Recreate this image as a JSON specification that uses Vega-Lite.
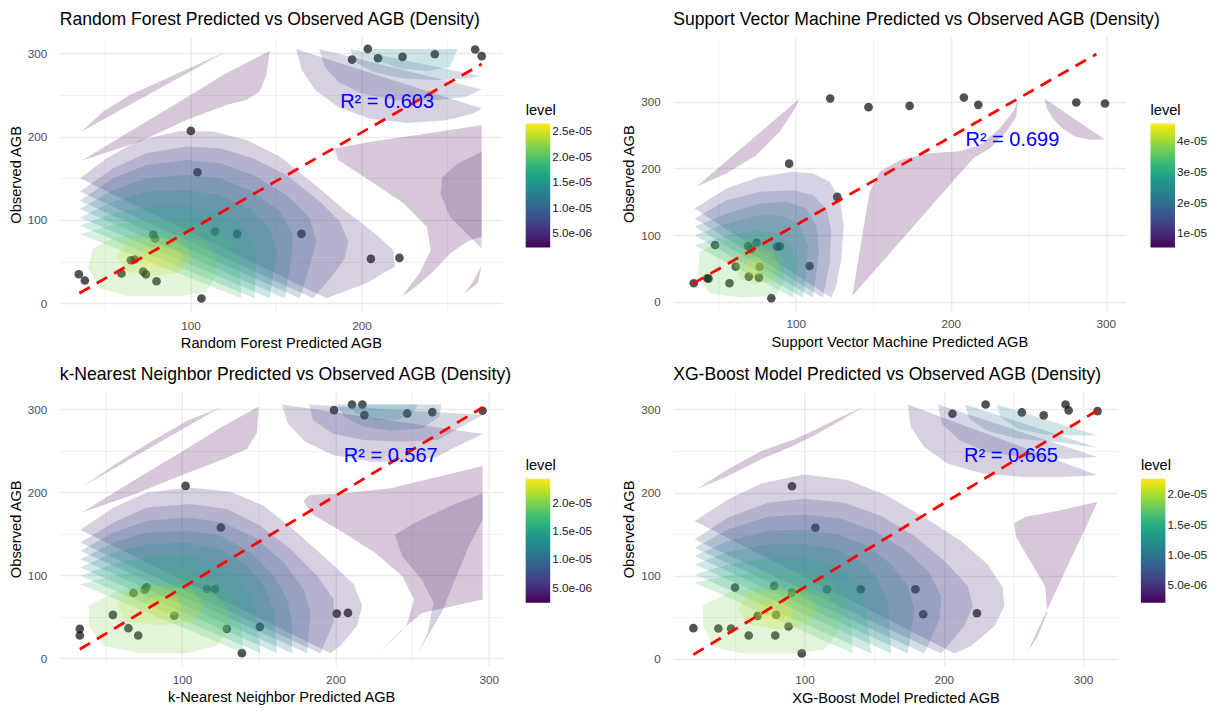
{
"$schema":"https://vega.github.io/schema/vega-lite/v6.json",
"background":"white",
"padding":{"left":7.7,"top":10,"right":0,"bottom":0},
"bounds":"flush",
"columns":2,
"spacing":{"row":80,"column":170.5},
"resolve":{"scale":{"fill":"independent","x":"independent","y":"independent"},"legend":{"fill":"independent"},"axis":{"x":"independent","y":"independent"}},
"config":{
"font":"Liberation Sans",
"view":{"stroke":null},
"title":{"font":"Liberation Sans","fontSize":17.6,"fontWeight":"normal","color":"#000","anchor":"start","frame":"group","offset":8.5},
"axis":{"domain":false,"ticks":false,"grid":true,"gridColor":"#ebebeb","labelFont":"Liberation Sans","labelFontSize":11.73,"labelColor":"#4d4d4d","titleFont":"Liberation Sans","titleFontSize":14.67,"titleFontWeight":"normal","titleColor":"#000","labelPadding":6.6,"titlePadding":4,"labelFlush":false,"labelOverlap":false},
"axisY":{"labelPadding":13},
"axisX":{"labelPadding":8.5},
"legend":{"titleFont":"Liberation Sans","titleFontSize":14.67,"titleFontWeight":"normal","titleColor":"#000","labelFont":"Liberation Sans","labelFontSize":11.73,"labelColor":"#1a1a1a","gradientLength":124,"gradientThickness":24.5,"gradientStrokeWidth":0,"labelOffset":7,"titlePadding":6,"labelOverlap":false}
},
"datasets":{
"rfS":[{"x":34.7,"y":34.8},{"x":38.2,"y":27.2},{"x":59.6,"y":35.6},{"x":65.1,"y":51.6},{"x":67.4,"y":52.4},{"x":72.3,"y":38},{"x":73.9,"y":34.8},{"x":78.2,"y":82},{"x":79.3,"y":77.6},{"x":80.1,"y":26.4},{"x":100.2,"y":206.8},{"x":104.1,"y":157.2},{"x":106.4,"y":5.6},{"x":114.4,"y":86},{"x":127.3,"y":83.2},{"x":164.9,"y":83.2},{"x":194.5,"y":292.4},{"x":203.7,"y":305.2},{"x":209.7,"y":294},{"x":205.5,"y":53.2},{"x":222.2,"y":54.4},{"x":224,"y":295.6},{"x":242.9,"y":298.8},{"x":266.5,"y":304.5},{"x":270.3,"y":296.5}],
"svS":[{"x":34.25,"y":27.9},{"x":43,"y":35.4},{"x":43.8,"y":34.9},{"x":48,"y":85.2},{"x":57.3,"y":27.9},{"x":61.3,"y":52.8},{"x":69.3,"y":83.7},{"x":69.8,"y":37.9},{"x":71.3,"y":78.7},{"x":74.8,"y":88.7},{"x":76.3,"y":36.4},{"x":76.8,"y":52.3},{"x":84.3,"y":5.5},{"x":88,"y":82.7},{"x":89.8,"y":83.2},{"x":95.8,"y":207.3},{"x":109,"y":53.8},{"x":126.8,"y":157.4},{"x":122.3,"y":304.9},{"x":147,"y":292},{"x":173.5,"y":294},{"x":208.5,"y":306.4},{"x":217.8,"y":295.5},{"x":281,"y":299},{"x":299.5,"y":297.5}],
"knS":[{"x":33.3,"y":35.6},{"x":33.3,"y":27.6},{"x":54.9,"y":52.4},{"x":65,"y":36.4},{"x":68.3,"y":78.8},{"x":71.4,"y":27.6},{"x":75.7,"y":82.8},{"x":76.9,"y":85.6},{"x":94.9,"y":51.6},{"x":102.3,"y":207.6},{"x":116.2,"y":83.6},{"x":121.5,"y":83.6},{"x":125.3,"y":157.6},{"x":129.2,"y":35.6},{"x":139,"y":6.4},{"x":150.7,"y":38},{"x":200.9,"y":54},{"x":208.2,"y":54.8},{"x":199.1,"y":298.8},{"x":210.8,"y":305.6},{"x":217.6,"y":305.6},{"x":218.9,"y":292.8},{"x":246.8,"y":294.8},{"x":263.2,"y":296.4},{"x":296,"y":298}],
"xgS":[{"x":20.2,"y":36.8},{"x":38.1,"y":36.4},{"x":47.3,"y":36.4},{"x":50.1,"y":85.6},{"x":59.9,"y":28},{"x":66.4,"y":51.6},{"x":78.2,"y":87.6},{"x":79,"y":28},{"x":79.6,"y":52.8},{"x":88.5,"y":38.8},{"x":90.8,"y":79.6},{"x":91,"y":207.6},{"x":98,"y":6.4},{"x":107.8,"y":157.6},{"x":116.2,"y":83.6},{"x":140.3,"y":83.6},{"x":179.6,"y":83.6},{"x":185.2,"y":53.6},{"x":223.8,"y":54.8},{"x":206.2,"y":294.8},{"x":230,"y":306},{"x":256,"y":296.4},{"x":271.7,"y":292.8},{"x":287.4,"y":306},{"x":289.6,"y":298.8},{"x":310.4,"y":298}],
"rfP":[
{"g":"a01","x":36.3,"y":206,"l":2.27e-6},{"g":"a01","x":48.9,"y":230,"l":2.27e-6},{"g":"a01","x":64.5,"y":250,"l":2.27e-6},{"g":"a01","x":82.1,"y":266,"l":2.27e-6},{"g":"a01","x":101.6,"y":284,"l":2.27e-6},{"g":"a01","x":121,"y":302,"l":2.27e-6},
{"g":"a02","x":36.3,"y":171,"l":2.27e-6},{"g":"a02","x":64.5,"y":206,"l":2.27e-6},{"g":"a02","x":93.8,"y":242,"l":2.27e-6},{"g":"a02","x":119.1,"y":274,"l":2.27e-6},{"g":"a02","x":146.4,"y":303,"l":2.27e-6},{"g":"a02","x":144.4,"y":274,"l":2.27e-6},{"g":"a02","x":140.5,"y":254,"l":2.27e-6},{"g":"a02","x":132.7,"y":244,"l":2.27e-6},{"g":"a02","x":121,"y":238,"l":2.27e-6},{"g":"a02","x":97.7,"y":220,"l":2.27e-6},{"g":"a02","x":70.4,"y":194,"l":2.27e-6},
{"g":"a03","x":161.7,"y":305,"l":4.96e-6},{"g":"a03","x":165.1,"y":279.6,"l":4.96e-6},{"g":"a03","x":173,"y":255.6,"l":4.96e-6},{"g":"a03","x":186.5,"y":235.6,"l":4.96e-6},{"g":"a03","x":204.5,"y":221.6,"l":4.96e-6},{"g":"a03","x":227,"y":216.4,"l":4.96e-6},{"g":"a03","x":249.5,"y":219.6,"l":4.96e-6},{"g":"a03","x":265.3,"y":227.6,"l":4.96e-6},{"g":"a03","x":270.3,"y":233.6,"l":4.96e-6},
{"g":"a04","x":175.2,"y":305,"l":7.64e-6},{"g":"a04","x":178.6,"y":283.6,"l":7.64e-6},{"g":"a04","x":186.5,"y":265.6,"l":7.64e-6},{"g":"a04","x":200,"y":251.6,"l":7.64e-6},{"g":"a04","x":220.3,"y":243.6,"l":7.64e-6},{"g":"a04","x":242.8,"y":243.6,"l":7.64e-6},{"g":"a04","x":260.8,"y":247.6,"l":7.64e-6},{"g":"a04","x":270.3,"y":256.4,"l":7.64e-6},
{"g":"a05","x":193.2,"y":305,"l":1.033e-5},{"g":"a05","x":196.6,"y":289.6,"l":1.033e-5},{"g":"a05","x":206.8,"y":277.6,"l":1.033e-5},{"g":"a05","x":224.8,"y":269.6,"l":1.033e-5},{"g":"a05","x":245,"y":267.6,"l":1.033e-5},{"g":"a05","x":260.8,"y":269.6,"l":1.033e-5},{"g":"a05","x":270.3,"y":272.4,"l":1.033e-5},
{"g":"a06","x":204.5,"y":305,"l":1.301e-5},{"g":"a06","x":209,"y":291.6,"l":1.301e-5},{"g":"a06","x":222.5,"y":281.6,"l":1.301e-5},{"g":"a06","x":238.3,"y":278.8,"l":1.301e-5},{"g":"a06","x":251.8,"y":283.6,"l":1.301e-5},{"g":"a06","x":256.3,"y":305,"l":1.301e-5},
{"g":"a07","x":270.3,"y":213.6,"l":2.27e-6},{"g":"a07","x":238.3,"y":203.6,"l":2.27e-6},{"g":"a07","x":204.5,"y":193.6,"l":2.27e-6},{"g":"a07","x":184.2,"y":185.6,"l":2.27e-6},{"g":"a07","x":186.5,"y":171.6,"l":2.27e-6},{"g":"a07","x":204.5,"y":147.6,"l":2.27e-6},{"g":"a07","x":224.8,"y":119.6,"l":2.27e-6},{"g":"a07","x":238.3,"y":91.6,"l":2.27e-6},{"g":"a07","x":240.5,"y":63.6,"l":2.27e-6},{"g":"a07","x":233.8,"y":35.6,"l":2.27e-6},{"g":"a07","x":223.6,"y":7.6,"l":2.27e-6},{"g":"a07","x":232,"y":20,"l":2.27e-6},{"g":"a07","x":243,"y":40,"l":2.27e-6},{"g":"a07","x":252,"y":60,"l":2.27e-6},{"g":"a07","x":262,"y":74,"l":2.27e-6},{"g":"a07","x":270.3,"y":80,"l":2.27e-6},
{"g":"a08","x":270.3,"y":45,"l":2.27e-6},{"g":"a08","x":265,"y":25,"l":2.27e-6},{"g":"a08","x":259.5,"y":10,"l":2.27e-6},{"g":"a08","x":268,"y":24,"l":2.27e-6},
{"g":"a09","x":270.3,"y":181.6,"l":4.96e-6},{"g":"a09","x":256.3,"y":167.6,"l":4.96e-6},{"g":"a09","x":247.3,"y":151.6,"l":4.96e-6},{"g":"a09","x":246.2,"y":131.6,"l":4.96e-6},{"g":"a09","x":251.8,"y":103.6,"l":4.96e-6},{"g":"a09","x":270.3,"y":65.6,"l":4.96e-6},
{"g":"a10","x":35.3,"y":150,"l":4.96e-6},{"g":"a10","x":50.9,"y":174,"l":4.96e-6},{"g":"a10","x":70.4,"y":196,"l":4.96e-6},{"g":"a10","x":93.8,"y":206.8,"l":4.96e-6},{"g":"a10","x":113.3,"y":206,"l":4.96e-6},{"g":"a10","x":132.7,"y":196,"l":4.96e-6},{"g":"a10","x":152.2,"y":176,"l":4.96e-6},{"g":"a10","x":171.7,"y":144,"l":4.96e-6},{"g":"a10","x":191.2,"y":110,"l":4.96e-6},{"g":"a10","x":207.8,"y":84,"l":4.96e-6},{"g":"a10","x":218.5,"y":64,"l":4.96e-6},{"g":"a10","x":219.5,"y":44,"l":4.96e-6},{"g":"a10","x":202.9,"y":24,"l":4.96e-6},{"g":"a10","x":179.5,"y":6,"l":4.96e-6},
{"g":"a11","x":35.3,"y":134,"l":7.35e-6},{"g":"a11","x":54.8,"y":162,"l":7.35e-6},{"g":"a11","x":74.3,"y":180,"l":7.35e-6},{"g":"a11","x":97.7,"y":188,"l":7.35e-6},{"g":"a11","x":117.2,"y":186,"l":7.35e-6},{"g":"a11","x":136.6,"y":174,"l":7.35e-6},{"g":"a11","x":156.1,"y":154,"l":7.35e-6},{"g":"a11","x":175.6,"y":122,"l":7.35e-6},{"g":"a11","x":187.3,"y":98,"l":7.35e-6},{"g":"a11","x":192.2,"y":74,"l":7.35e-6},{"g":"a11","x":190.3,"y":54,"l":7.35e-6},{"g":"a11","x":183.4,"y":34,"l":7.35e-6},{"g":"a11","x":171.7,"y":6,"l":7.35e-6},
{"g":"a12","x":35.3,"y":123,"l":9.73e-6},{"g":"a12","x":54.8,"y":150,"l":9.73e-6},{"g":"a12","x":74.3,"y":166,"l":9.73e-6},{"g":"a12","x":97.7,"y":172,"l":9.73e-6},{"g":"a12","x":117.2,"y":168,"l":9.73e-6},{"g":"a12","x":136.6,"y":154,"l":9.73e-6},{"g":"a12","x":156.1,"y":130,"l":9.73e-6},{"g":"a12","x":169.8,"y":102,"l":9.73e-6},{"g":"a12","x":173.7,"y":74,"l":9.73e-6},{"g":"a12","x":169.8,"y":46,"l":9.73e-6},{"g":"a12","x":163.9,"y":6,"l":9.73e-6},
{"g":"a13","x":35.3,"y":113,"l":1.212e-5},{"g":"a13","x":54.8,"y":136,"l":1.212e-5},{"g":"a13","x":74.3,"y":150,"l":1.212e-5},{"g":"a13","x":97.7,"y":154,"l":1.212e-5},{"g":"a13","x":117.2,"y":150,"l":1.212e-5},{"g":"a13","x":136.6,"y":134,"l":1.212e-5},{"g":"a13","x":152.2,"y":110,"l":1.212e-5},{"g":"a13","x":160,"y":82,"l":1.212e-5},{"g":"a13","x":159,"y":54,"l":1.212e-5},{"g":"a13","x":155.2,"y":6,"l":1.212e-5},
{"g":"a14","x":35.3,"y":103,"l":1.451e-5},{"g":"a14","x":54.8,"y":122,"l":1.451e-5},{"g":"a14","x":74.3,"y":134,"l":1.451e-5},{"g":"a14","x":97.7,"y":136,"l":1.451e-5},{"g":"a14","x":117.2,"y":130,"l":1.451e-5},{"g":"a14","x":134.7,"y":114,"l":1.451e-5},{"g":"a14","x":146.4,"y":90,"l":1.451e-5},{"g":"a14","x":150.3,"y":62,"l":1.451e-5},{"g":"a14","x":146.4,"y":6,"l":1.451e-5},
{"g":"a15","x":35.3,"y":93,"l":1.69e-5},{"g":"a15","x":54.8,"y":108,"l":1.69e-5},{"g":"a15","x":74.3,"y":116,"l":1.69e-5},{"g":"a15","x":97.7,"y":117,"l":1.69e-5},{"g":"a15","x":117.2,"y":110,"l":1.69e-5},{"g":"a15","x":130.8,"y":92,"l":1.69e-5},{"g":"a15","x":138.6,"y":66,"l":1.69e-5},{"g":"a15","x":137.6,"y":6,"l":1.69e-5},
{"g":"a16","x":35.3,"y":83,"l":1.928e-5},{"g":"a16","x":54.8,"y":94,"l":1.928e-5},{"g":"a16","x":74.3,"y":100,"l":1.928e-5},{"g":"a16","x":97.7,"y":99,"l":1.928e-5},{"g":"a16","x":115.2,"y":90,"l":1.928e-5},{"g":"a16","x":125.9,"y":70,"l":1.928e-5},{"g":"a16","x":128.8,"y":42,"l":1.928e-5},{"g":"a16","x":129.8,"y":6,"l":1.928e-5},
{"g":"a17","x":43,"y":66,"l":2.167e-5},{"g":"a17","x":54.8,"y":78,"l":2.167e-5},{"g":"a17","x":74.3,"y":84,"l":2.167e-5},{"g":"a17","x":93.8,"y":82,"l":2.167e-5},{"g":"a17","x":107.4,"y":74,"l":2.167e-5},{"g":"a17","x":115.2,"y":58,"l":2.167e-5},{"g":"a17","x":115.2,"y":34,"l":2.167e-5},{"g":"a17","x":109.4,"y":14,"l":2.167e-5},{"g":"a17","x":93.8,"y":8,"l":2.167e-5},{"g":"a17","x":64.5,"y":8,"l":2.167e-5},{"g":"a17","x":47,"y":18,"l":2.167e-5},{"g":"a17","x":40.2,"y":42,"l":2.167e-5},
{"g":"a18","x":56.7,"y":56,"l":2.405e-5},{"g":"a18","x":62.6,"y":72,"l":2.405e-5},{"g":"a18","x":78.2,"y":78.8,"l":2.405e-5},{"g":"a18","x":93.8,"y":74,"l":2.405e-5},{"g":"a18","x":101.6,"y":56,"l":2.405e-5},{"g":"a18","x":93.8,"y":37,"l":2.405e-5},{"g":"a18","x":78.2,"y":32,"l":2.405e-5},{"g":"a18","x":62.6,"y":38,"l":2.405e-5},
{"g":"a19","x":68.4,"y":56,"l":2.644e-5},{"g":"a19","x":74.3,"y":66,"l":2.644e-5},{"g":"a19","x":83,"y":69,"l":2.644e-5},{"g":"a19","x":92.8,"y":64,"l":2.644e-5},{"g":"a19","x":95.7,"y":56,"l":2.644e-5},{"g":"a19","x":91.8,"y":46,"l":2.644e-5},{"g":"a19","x":82,"y":42,"l":2.644e-5},{"g":"a19","x":72.3,"y":46,"l":2.644e-5}
],
"svP":[
{"g":"b01","x":35.9,"y":172.5,"l":5.46e-6},{"g":"b01","x":55.3,"y":192.5,"l":5.46e-6},{"g":"b01","x":74.6,"y":220,"l":5.46e-6},{"g":"b01","x":89.7,"y":255,"l":5.46e-6},{"g":"b01","x":98.3,"y":285,"l":5.46e-6},{"g":"b01","x":102.6,"y":305,"l":5.46e-6},
{"g":"b02","x":136.6,"y":9,"l":5.46e-6},{"g":"b02","x":139.1,"y":45,"l":5.46e-6},{"g":"b02","x":143.4,"y":105,"l":5.46e-6},{"g":"b02","x":147.7,"y":165,"l":5.46e-6},{"g":"b02","x":154.2,"y":195,"l":5.46e-6},{"g":"b02","x":167.1,"y":212.5,"l":5.46e-6},{"g":"b02","x":184.3,"y":222.5,"l":5.46e-6},{"g":"b02","x":205.8,"y":226,"l":5.46e-6},{"g":"b02","x":218.7,"y":235,"l":5.46e-6},{"g":"b02","x":231.6,"y":260,"l":5.46e-6},{"g":"b02","x":240.2,"y":285,"l":5.46e-6},{"g":"b02","x":243.4,"y":302.5,"l":5.46e-6},{"g":"b02","x":242.3,"y":277.5,"l":5.46e-6},{"g":"b02","x":235.9,"y":255,"l":5.46e-6},{"g":"b02","x":225.2,"y":230,"l":5.46e-6},{"g":"b02","x":214.4,"y":215,"l":5.46e-6},
{"g":"b03","x":260.5,"y":305,"l":5.46e-6},{"g":"b03","x":262,"y":290,"l":5.46e-6},{"g":"b03","x":266,"y":275,"l":5.46e-6},{"g":"b03","x":272,"y":260,"l":5.46e-6},{"g":"b03","x":280,"y":248,"l":5.46e-6},{"g":"b03","x":290,"y":243,"l":5.46e-6},{"g":"b03","x":299.5,"y":243.5,"l":5.46e-6},
{"g":"b04","x":34.8,"y":140,"l":1.12e-5},{"g":"b04","x":55.3,"y":170,"l":1.12e-5},{"g":"b04","x":76.8,"y":187.5,"l":1.12e-5},{"g":"b04","x":98.3,"y":195,"l":1.12e-5},{"g":"b04","x":111.2,"y":192.5,"l":1.12e-5},{"g":"b04","x":121.9,"y":180,"l":1.12e-5},{"g":"b04","x":128.4,"y":155,"l":1.12e-5},{"g":"b04","x":131,"y":115,"l":1.12e-5},{"g":"b04","x":129.5,"y":65,"l":1.12e-5},{"g":"b04","x":126.2,"y":25,"l":1.12e-5},{"g":"b04","x":123,"y":6,"l":1.12e-5},
{"g":"b05","x":34.8,"y":125,"l":1.612e-5},{"g":"b05","x":55.3,"y":152.5,"l":1.612e-5},{"g":"b05","x":76.8,"y":165,"l":1.612e-5},{"g":"b05","x":98.3,"y":167.5,"l":1.612e-5},{"g":"b05","x":111.2,"y":160,"l":1.612e-5},{"g":"b05","x":119.8,"y":140,"l":1.612e-5},{"g":"b05","x":123,"y":105,"l":1.612e-5},{"g":"b05","x":122,"y":60,"l":1.612e-5},{"g":"b05","x":117.6,"y":6,"l":1.612e-5},
{"g":"b06","x":34.8,"y":112.5,"l":2.104e-5},{"g":"b06","x":55.3,"y":132.5,"l":2.104e-5},{"g":"b06","x":76.8,"y":147.5,"l":2.104e-5},{"g":"b06","x":94,"y":150,"l":2.104e-5},{"g":"b06","x":106.9,"y":140,"l":2.104e-5},{"g":"b06","x":113.3,"y":115,"l":2.104e-5},{"g":"b06","x":115,"y":75,"l":2.104e-5},{"g":"b06","x":111.2,"y":6,"l":2.104e-5},
{"g":"b07","x":34.8,"y":100,"l":2.596e-5},{"g":"b07","x":55.3,"y":117.5,"l":2.596e-5},{"g":"b07","x":76.8,"y":130,"l":2.596e-5},{"g":"b07","x":91.8,"y":129,"l":2.596e-5},{"g":"b07","x":102.6,"y":115,"l":2.596e-5},{"g":"b07","x":108,"y":85,"l":2.596e-5},{"g":"b07","x":106.9,"y":45,"l":2.596e-5},{"g":"b07","x":104.7,"y":6,"l":2.596e-5},
{"g":"b08","x":34.8,"y":85,"l":3.088e-5},{"g":"b08","x":55.3,"y":100,"l":3.088e-5},{"g":"b08","x":74.6,"y":107.5,"l":3.088e-5},{"g":"b08","x":87.5,"y":102.5,"l":3.088e-5},{"g":"b08","x":97.2,"y":85,"l":3.088e-5},{"g":"b08","x":100.4,"y":55,"l":3.088e-5},{"g":"b08","x":98.3,"y":6,"l":3.088e-5},
{"g":"b09","x":38,"y":75,"l":3.58e-5},{"g":"b09","x":51,"y":90,"l":3.58e-5},{"g":"b09","x":68.2,"y":95,"l":3.58e-5},{"g":"b09","x":83.2,"y":87.5,"l":3.58e-5},{"g":"b09","x":91.8,"y":65,"l":3.58e-5},{"g":"b09","x":92.9,"y":35,"l":3.58e-5},{"g":"b09","x":87.5,"y":10,"l":3.58e-5},{"g":"b09","x":66,"y":6,"l":3.58e-5},{"g":"b09","x":44.5,"y":12.5,"l":3.58e-5},{"g":"b09","x":37,"y":40,"l":3.58e-5},
{"g":"b10","x":60.6,"y":55,"l":4.072e-5},{"g":"b10","x":64.9,"y":75,"l":4.072e-5},{"g":"b10","x":74.6,"y":82.5,"l":4.072e-5},{"g":"b10","x":85.4,"y":75,"l":4.072e-5},{"g":"b10","x":88.6,"y":55,"l":4.072e-5},{"g":"b10","x":85.4,"y":32.5,"l":4.072e-5},{"g":"b10","x":74.6,"y":26,"l":4.072e-5},{"g":"b10","x":63.9,"y":35,"l":4.072e-5},
{"g":"b11","x":67.1,"y":52.5,"l":4.564e-5},{"g":"b11","x":70.3,"y":65,"l":4.564e-5},{"g":"b11","x":76.8,"y":66,"l":4.564e-5},{"g":"b11","x":80.6,"y":52.5,"l":4.564e-5},{"g":"b11","x":76.8,"y":40,"l":4.564e-5},{"g":"b11","x":69.9,"y":40,"l":4.564e-5}
],
"knP":[
{"g":"c01","x":35.9,"y":207.8,"l":2.35e-6},{"g":"c01","x":55.4,"y":232.5,"l":2.35e-6},{"g":"c01","x":77.2,"y":258,"l":2.35e-6},{"g":"c01","x":103.3,"y":286,"l":2.35e-6},{"g":"c01","x":125,"y":302,"l":2.35e-6},
{"g":"c02","x":34.8,"y":175.7,"l":2.35e-6},{"g":"c02","x":66.3,"y":211.8,"l":2.35e-6},{"g":"c02","x":98.9,"y":247.9,"l":2.35e-6},{"g":"c02","x":127.2,"y":280,"l":2.35e-6},{"g":"c02","x":150,"y":303.2,"l":2.35e-6},{"g":"c02","x":148.9,"y":272,"l":2.35e-6},{"g":"c02","x":142.4,"y":251.9,"l":2.35e-6},{"g":"c02","x":127.2,"y":239.9,"l":2.35e-6},{"g":"c02","x":98.9,"y":219.8,"l":2.35e-6},{"g":"c02","x":66.3,"y":195.7,"l":2.35e-6},
{"g":"c03","x":165.1,"y":305.6,"l":4.78e-6},{"g":"c03","x":168.9,"y":282.8,"l":4.78e-6},{"g":"c03","x":180.4,"y":260.8,"l":4.78e-6},{"g":"c03","x":198.1,"y":244.8,"l":4.78e-6},{"g":"c03","x":223.4,"y":236.8,"l":4.78e-6},{"g":"c03","x":248.8,"y":236.8,"l":4.78e-6},{"g":"c03","x":266.5,"y":242.8,"l":4.78e-6},{"g":"c03","x":276.7,"y":252.8,"l":4.78e-6},{"g":"c03","x":296,"y":270,"l":4.78e-6},
{"g":"c04","x":182.9,"y":305.6,"l":7.21e-6},{"g":"c04","x":185.4,"y":286.8,"l":7.21e-6},{"g":"c04","x":198.1,"y":270.8,"l":7.21e-6},{"g":"c04","x":218.4,"y":262.8,"l":7.21e-6},{"g":"c04","x":243.7,"y":260.8,"l":7.21e-6},{"g":"c04","x":266.5,"y":262.8,"l":7.21e-6},{"g":"c04","x":296,"y":292.8,"l":7.21e-6},
{"g":"c05","x":200.6,"y":305.6,"l":9.65e-6},{"g":"c05","x":205.7,"y":290.8,"l":9.65e-6},{"g":"c05","x":218.4,"y":278.8,"l":9.65e-6},{"g":"c05","x":236.1,"y":274,"l":9.65e-6},{"g":"c05","x":256.4,"y":276.8,"l":9.65e-6},{"g":"c05","x":267.8,"y":290.8,"l":9.65e-6},{"g":"c05","x":269.1,"y":305.6,"l":9.65e-6},
{"g":"c06","x":208.2,"y":305.6,"l":1.208e-5},{"g":"c06","x":213.3,"y":294.8,"l":1.208e-5},{"g":"c06","x":226,"y":286.8,"l":1.208e-5},{"g":"c06","x":241.2,"y":287.6,"l":1.208e-5},{"g":"c06","x":251.3,"y":296.8,"l":1.208e-5},{"g":"c06","x":253.9,"y":305.6,"l":1.208e-5},
{"g":"c07","x":296,"y":231.6,"l":2.35e-6},{"g":"c07","x":236.1,"y":204.8,"l":2.35e-6},{"g":"c07","x":205.7,"y":198.8,"l":2.35e-6},{"g":"c07","x":182.9,"y":196.8,"l":2.35e-6},{"g":"c07","x":179.1,"y":188.8,"l":2.35e-6},{"g":"c07","x":185.4,"y":172.8,"l":2.35e-6},{"g":"c07","x":205.7,"y":150.8,"l":2.35e-6},{"g":"c07","x":226,"y":126.8,"l":2.35e-6},{"g":"c07","x":243.7,"y":98.8,"l":2.35e-6},{"g":"c07","x":251.3,"y":70.8,"l":2.35e-6},{"g":"c07","x":246.3,"y":38.8,"l":2.35e-6},{"g":"c07","x":227.3,"y":5,"l":2.35e-6},{"g":"c07","x":241.2,"y":30.8,"l":2.35e-6},{"g":"c07","x":256.4,"y":54.8,"l":2.35e-6},{"g":"c07","x":296,"y":70.8,"l":2.35e-6},
{"g":"c08","x":296,"y":198.8,"l":4.78e-6},{"g":"c08","x":274.2,"y":182.8,"l":4.78e-6},{"g":"c08","x":251.3,"y":162.8,"l":4.78e-6},{"g":"c08","x":238.7,"y":148.8,"l":4.78e-6},{"g":"c08","x":243.7,"y":122.8,"l":4.78e-6},{"g":"c08","x":256.4,"y":94.8,"l":4.78e-6},{"g":"c08","x":264,"y":66.8,"l":4.78e-6},{"g":"c08","x":260.2,"y":30.8,"l":4.78e-6},{"g":"c08","x":253.9,"y":6.8,"l":4.78e-6},{"g":"c08","x":269.1,"y":54.8,"l":4.78e-6},{"g":"c08","x":286.9,"y":134.8,"l":4.78e-6},{"g":"c08","x":296,"y":166.8,"l":4.78e-6},
{"g":"c09","x":33.7,"y":154.8,"l":4.78e-6},{"g":"c09","x":55.4,"y":181.7,"l":4.78e-6},{"g":"c09","x":77.2,"y":199.8,"l":4.78e-6},{"g":"c09","x":105.4,"y":205.8,"l":4.78e-6},{"g":"c09","x":131.5,"y":200.6,"l":4.78e-6},{"g":"c09","x":153.3,"y":183.7,"l":4.78e-6},{"g":"c09","x":175,"y":151.6,"l":4.78e-6},{"g":"c09","x":196.7,"y":115.5,"l":4.78e-6},{"g":"c09","x":212,"y":89.4,"l":4.78e-6},{"g":"c09","x":217.4,"y":63.4,"l":4.78e-6},{"g":"c09","x":214.1,"y":39.3,"l":4.78e-6},{"g":"c09","x":203.3,"y":15.2,"l":4.78e-6},{"g":"c09","x":196.7,"y":6.4,"l":4.78e-6},
{"g":"c10","x":33.7,"y":139.6,"l":6.94e-6},{"g":"c10","x":55.4,"y":163.7,"l":6.94e-6},{"g":"c10","x":77.2,"y":181.7,"l":6.94e-6},{"g":"c10","x":105.4,"y":185.7,"l":6.94e-6},{"g":"c10","x":129.3,"y":179.7,"l":6.94e-6},{"g":"c10","x":151.1,"y":159.6,"l":6.94e-6},{"g":"c10","x":170.7,"y":131.6,"l":6.94e-6},{"g":"c10","x":188,"y":99.5,"l":6.94e-6},{"g":"c10","x":198.9,"y":71.4,"l":6.94e-6},{"g":"c10","x":198.9,"y":43.3,"l":6.94e-6},{"g":"c10","x":190.2,"y":6.4,"l":6.94e-6},
{"g":"c11","x":33.7,"y":129.6,"l":9.1e-6},{"g":"c11","x":55.4,"y":151.6,"l":9.1e-6},{"g":"c11","x":77.2,"y":165.7,"l":9.1e-6},{"g":"c11","x":103.3,"y":169.7,"l":9.1e-6},{"g":"c11","x":127.2,"y":163.7,"l":9.1e-6},{"g":"c11","x":148.9,"y":143.6,"l":9.1e-6},{"g":"c11","x":166.3,"y":115.5,"l":9.1e-6},{"g":"c11","x":179.3,"y":83.4,"l":9.1e-6},{"g":"c11","x":183.7,"y":55.4,"l":9.1e-6},{"g":"c11","x":181.5,"y":6.4,"l":9.1e-6},
{"g":"c12","x":33.7,"y":119.5,"l":1.127e-5},{"g":"c12","x":55.4,"y":139.6,"l":1.127e-5},{"g":"c12","x":77.2,"y":151.6,"l":1.127e-5},{"g":"c12","x":103.3,"y":153.6,"l":1.127e-5},{"g":"c12","x":125,"y":147.6,"l":1.127e-5},{"g":"c12","x":144.6,"y":127.6,"l":1.127e-5},{"g":"c12","x":159.8,"y":99.5,"l":1.127e-5},{"g":"c12","x":168.5,"y":71.4,"l":1.127e-5},{"g":"c12","x":171.7,"y":43.3,"l":1.127e-5},{"g":"c12","x":171.7,"y":6.4,"l":1.127e-5},
{"g":"c13","x":33.7,"y":109.5,"l":1.343e-5},{"g":"c13","x":55.4,"y":127.6,"l":1.343e-5},{"g":"c13","x":77.2,"y":137.6,"l":1.343e-5},{"g":"c13","x":103.3,"y":138.8,"l":1.343e-5},{"g":"c13","x":125,"y":131.6,"l":1.343e-5},{"g":"c13","x":142.4,"y":111.5,"l":1.343e-5},{"g":"c13","x":153.3,"y":87.4,"l":1.343e-5},{"g":"c13","x":159.8,"y":59.4,"l":1.343e-5},{"g":"c13","x":162,"y":6.4,"l":1.343e-5},
{"g":"c14","x":33.7,"y":99.5,"l":1.559e-5},{"g":"c14","x":55.4,"y":113.5,"l":1.559e-5},{"g":"c14","x":77.2,"y":122.7,"l":1.559e-5},{"g":"c14","x":103.3,"y":123.5,"l":1.559e-5},{"g":"c14","x":122.8,"y":115.5,"l":1.559e-5},{"g":"c14","x":138,"y":95.5,"l":1.559e-5},{"g":"c14","x":146.7,"y":67.4,"l":1.559e-5},{"g":"c14","x":151.1,"y":6.4,"l":1.559e-5},
{"g":"c15","x":33.7,"y":89.4,"l":1.775e-5},{"g":"c15","x":55.4,"y":99.5,"l":1.775e-5},{"g":"c15","x":77.2,"y":105.5,"l":1.775e-5},{"g":"c15","x":101.1,"y":105.5,"l":1.775e-5},{"g":"c15","x":118.5,"y":95.5,"l":1.775e-5},{"g":"c15","x":131.5,"y":75.4,"l":1.775e-5},{"g":"c15","x":138,"y":47.3,"l":1.775e-5},{"g":"c15","x":140.2,"y":6.4,"l":1.775e-5},
{"g":"c16","x":39.1,"y":63.4,"l":1.991e-5},{"g":"c16","x":55.4,"y":79.4,"l":1.991e-5},{"g":"c16","x":77.2,"y":89.4,"l":1.991e-5},{"g":"c16","x":103.3,"y":89.4,"l":1.991e-5},{"g":"c16","x":120.7,"y":79.4,"l":1.991e-5},{"g":"c16","x":129.3,"y":59.4,"l":1.991e-5},{"g":"c16","x":130.4,"y":35.3,"l":1.991e-5},{"g":"c16","x":122.8,"y":15.2,"l":1.991e-5},{"g":"c16","x":103.3,"y":6.4,"l":1.991e-5},{"g":"c16","x":72.8,"y":6.4,"l":1.991e-5},{"g":"c16","x":48.8,"y":15.2,"l":1.991e-5},{"g":"c16","x":39.1,"y":39.3,"l":1.991e-5},
{"g":"c17","x":57.6,"y":63.4,"l":2.208e-5},{"g":"c17","x":64.1,"y":81.4,"l":2.208e-5},{"g":"c17","x":85.9,"y":88.2,"l":2.208e-5},{"g":"c17","x":107.6,"y":81.4,"l":2.208e-5},{"g":"c17","x":114.1,"y":63.4,"l":2.208e-5},{"g":"c17","x":107.6,"y":44.1,"l":2.208e-5},{"g":"c17","x":85.9,"y":39.3,"l":2.208e-5},{"g":"c17","x":64.1,"y":44.1,"l":2.208e-5},
{"g":"c18","x":75,"y":63.4,"l":2.424e-5},{"g":"c18","x":79.3,"y":73.4,"l":2.424e-5},{"g":"c18","x":88,"y":76.2,"l":2.424e-5},{"g":"c18","x":96.7,"y":73.4,"l":2.424e-5},{"g":"c18","x":100,"y":63.4,"l":2.424e-5},{"g":"c18","x":96.7,"y":53.4,"l":2.424e-5},{"g":"c18","x":88,"y":50.5,"l":2.424e-5},{"g":"c18","x":79.3,"y":53.4,"l":2.424e-5}
],
"xgP":[
{"g":"d01","x":22.2,"y":203.8,"l":2.01e-6},{"g":"d01","x":45,"y":228,"l":2.01e-6},{"g":"d01","x":68.9,"y":250,"l":2.01e-6},{"g":"d01","x":92.8,"y":264,"l":2.01e-6},{"g":"d01","x":109.6,"y":277,"l":2.01e-6},{"g":"d01","x":126.3,"y":291,"l":2.01e-6},{"g":"d01","x":142.6,"y":303.2,"l":2.01e-6},{"g":"d01","x":126.3,"y":287,"l":2.01e-6},{"g":"d01","x":109.6,"y":271,"l":2.01e-6},{"g":"d01","x":92.8,"y":257,"l":2.01e-6},{"g":"d01","x":68.9,"y":240,"l":2.01e-6},{"g":"d01","x":45,"y":220,"l":2.01e-6},
{"g":"d02","x":174.2,"y":306,"l":4.3e-6},{"g":"d02","x":176.2,"y":278.8,"l":4.3e-6},{"g":"d02","x":186,"y":254.8,"l":4.3e-6},{"g":"d02","x":202.8,"y":234.8,"l":4.3e-6},{"g":"d02","x":228,"y":222.8,"l":4.3e-6},{"g":"d02","x":256,"y":218.8,"l":4.3e-6},{"g":"d02","x":284,"y":218.8,"l":4.3e-6},{"g":"d02","x":310.4,"y":220.8,"l":4.3e-6},
{"g":"d03","x":195.8,"y":306,"l":6.59e-6},{"g":"d03","x":198.6,"y":282.8,"l":6.59e-6},{"g":"d03","x":211.2,"y":262.8,"l":6.59e-6},{"g":"d03","x":230.8,"y":248.8,"l":6.59e-6},{"g":"d03","x":258.8,"y":242,"l":6.59e-6},{"g":"d03","x":286.8,"y":240.8,"l":6.59e-6},{"g":"d03","x":310.4,"y":242.8,"l":6.59e-6},
{"g":"d04","x":215.4,"y":306,"l":8.88e-6},{"g":"d04","x":218.2,"y":288.8,"l":8.88e-6},{"g":"d04","x":230.8,"y":274.8,"l":8.88e-6},{"g":"d04","x":253.2,"y":264.8,"l":8.88e-6},{"g":"d04","x":281.2,"y":260.8,"l":8.88e-6},{"g":"d04","x":310.4,"y":254,"l":8.88e-6},
{"g":"d05","x":237.8,"y":306,"l":1.117e-5},{"g":"d05","x":240.6,"y":290.8,"l":1.117e-5},{"g":"d05","x":253.2,"y":276.8,"l":1.117e-5},{"g":"d05","x":272.8,"y":270,"l":1.117e-5},{"g":"d05","x":292.4,"y":268.8,"l":1.117e-5},{"g":"d05","x":310.4,"y":268.8,"l":1.117e-5},
{"g":"d06","x":310.4,"y":188.8,"l":2.01e-6},{"g":"d06","x":284,"y":178.8,"l":2.01e-6},{"g":"d06","x":258.8,"y":170.8,"l":2.01e-6},{"g":"d06","x":250.4,"y":162.8,"l":2.01e-6},{"g":"d06","x":251.8,"y":146.8,"l":2.01e-6},{"g":"d06","x":261.6,"y":118.8,"l":2.01e-6},{"g":"d06","x":272.8,"y":86.8,"l":2.01e-6},{"g":"d06","x":274.2,"y":54.8,"l":2.01e-6},{"g":"d06","x":267.2,"y":26.8,"l":2.01e-6},{"g":"d06","x":260.2,"y":8.8,"l":2.01e-6},
{"g":"d07","x":21.1,"y":165.7,"l":4.3e-6},{"g":"d07","x":45,"y":191.7,"l":4.3e-6},{"g":"d07","x":68.9,"y":211,"l":4.3e-6},{"g":"d07","x":100,"y":221.8,"l":4.3e-6},{"g":"d07","x":131.1,"y":215,"l":4.3e-6},{"g":"d07","x":159.8,"y":195.7,"l":4.3e-6},{"g":"d07","x":188.5,"y":167.7,"l":4.3e-6},{"g":"d07","x":212.4,"y":141.6,"l":4.3e-6},{"g":"d07","x":231.6,"y":113.5,"l":4.3e-6},{"g":"d07","x":242.3,"y":85.4,"l":4.3e-6},{"g":"d07","x":243.5,"y":63.4,"l":4.3e-6},{"g":"d07","x":236.4,"y":39.3,"l":4.3e-6},{"g":"d07","x":219.6,"y":15.2,"l":4.3e-6},{"g":"d07","x":207.7,"y":6.4,"l":4.3e-6},
{"g":"d08","x":21.1,"y":143.6,"l":6.33e-6},{"g":"d08","x":45,"y":169.7,"l":6.33e-6},{"g":"d08","x":73.7,"y":187.7,"l":6.33e-6},{"g":"d08","x":100,"y":192.5,"l":6.33e-6},{"g":"d08","x":128.7,"y":187.7,"l":6.33e-6},{"g":"d08","x":155,"y":171.7,"l":6.33e-6},{"g":"d08","x":178.9,"y":147.6,"l":6.33e-6},{"g":"d08","x":200.5,"y":117.5,"l":6.33e-6},{"g":"d08","x":217.2,"y":87.4,"l":6.33e-6},{"g":"d08","x":220.8,"y":63.4,"l":6.33e-6},{"g":"d08","x":214.8,"y":39.3,"l":6.33e-6},{"g":"d08","x":198.1,"y":6.4,"l":6.33e-6},
{"g":"d09","x":21.1,"y":133.6,"l":8.37e-6},{"g":"d09","x":45,"y":155.6,"l":8.37e-6},{"g":"d09","x":73.7,"y":170.9,"l":8.37e-6},{"g":"d09","x":100,"y":173.7,"l":8.37e-6},{"g":"d09","x":126.3,"y":168.5,"l":8.37e-6},{"g":"d09","x":150.2,"y":153.6,"l":8.37e-6},{"g":"d09","x":171.8,"y":131.6,"l":8.37e-6},{"g":"d09","x":188.5,"y":105.5,"l":8.37e-6},{"g":"d09","x":198.1,"y":75.4,"l":8.37e-6},{"g":"d09","x":196.9,"y":47.3,"l":8.37e-6},{"g":"d09","x":186.1,"y":6.4,"l":8.37e-6},
{"g":"d10","x":21.1,"y":123.5,"l":1.04e-5},{"g":"d10","x":45,"y":141.6,"l":1.04e-5},{"g":"d10","x":73.7,"y":153.6,"l":1.04e-5},{"g":"d10","x":100,"y":155.6,"l":1.04e-5},{"g":"d10","x":123.9,"y":149.6,"l":1.04e-5},{"g":"d10","x":145.5,"y":135.6,"l":1.04e-5},{"g":"d10","x":162.2,"y":113.5,"l":1.04e-5},{"g":"d10","x":174.2,"y":87.4,"l":1.04e-5},{"g":"d10","x":178.9,"y":59.4,"l":1.04e-5},{"g":"d10","x":174.2,"y":6.4,"l":1.04e-5},
{"g":"d11","x":21.1,"y":113.5,"l":1.244e-5},{"g":"d11","x":45,"y":128.4,"l":1.244e-5},{"g":"d11","x":73.7,"y":137.6,"l":1.244e-5},{"g":"d11","x":100,"y":138.8,"l":1.244e-5},{"g":"d11","x":121.5,"y":132.4,"l":1.244e-5},{"g":"d11","x":140.7,"y":117.5,"l":1.244e-5},{"g":"d11","x":152.6,"y":95.5,"l":1.244e-5},{"g":"d11","x":159.8,"y":67.4,"l":1.244e-5},{"g":"d11","x":162.2,"y":6.4,"l":1.244e-5},
{"g":"d12","x":21.1,"y":101.5,"l":1.447e-5},{"g":"d12","x":45,"y":113.5,"l":1.447e-5},{"g":"d12","x":73.7,"y":121.5,"l":1.447e-5},{"g":"d12","x":100,"y":121.5,"l":1.447e-5},{"g":"d12","x":119.1,"y":114.7,"l":1.447e-5},{"g":"d12","x":134.7,"y":99.5,"l":1.447e-5},{"g":"d12","x":143.1,"y":75.4,"l":1.447e-5},{"g":"d12","x":147.8,"y":6.4,"l":1.447e-5},
{"g":"d13","x":21.1,"y":91.5,"l":1.651e-5},{"g":"d13","x":45,"y":100.3,"l":1.651e-5},{"g":"d13","x":73.7,"y":105.5,"l":1.651e-5},{"g":"d13","x":97.6,"y":104.3,"l":1.651e-5},{"g":"d13","x":116.7,"y":95.5,"l":1.651e-5},{"g":"d13","x":128.7,"y":75.4,"l":1.651e-5},{"g":"d13","x":133.5,"y":47.3,"l":1.651e-5},{"g":"d13","x":134.7,"y":6.4,"l":1.651e-5},
{"g":"d14","x":27,"y":63.4,"l":1.854e-5},{"g":"d14","x":45,"y":79.4,"l":1.854e-5},{"g":"d14","x":68.9,"y":88.2,"l":1.854e-5},{"g":"d14","x":97.6,"y":88.2,"l":1.854e-5},{"g":"d14","x":116.7,"y":77.4,"l":1.854e-5},{"g":"d14","x":125.1,"y":57.4,"l":1.854e-5},{"g":"d14","x":123.9,"y":31.3,"l":1.854e-5},{"g":"d14","x":114.4,"y":11.2,"l":1.854e-5},{"g":"d14","x":92.8,"y":6.4,"l":1.854e-5},{"g":"d14","x":56.9,"y":6.4,"l":1.854e-5},{"g":"d14","x":35.4,"y":13.2,"l":1.854e-5},{"g":"d14","x":27,"y":39.3,"l":1.854e-5},
{"g":"d15","x":52.2,"y":59.4,"l":2.058e-5},{"g":"d15","x":59.3,"y":77.4,"l":2.058e-5},{"g":"d15","x":80.9,"y":83.4,"l":2.058e-5},{"g":"d15","x":102.4,"y":77.4,"l":2.058e-5},{"g":"d15","x":109.6,"y":59.4,"l":2.058e-5},{"g":"d15","x":102.4,"y":41.3,"l":2.058e-5},{"g":"d15","x":80.9,"y":35.3,"l":2.058e-5},{"g":"d15","x":59.3,"y":41.3,"l":2.058e-5},
{"g":"d16","x":65.3,"y":57.4,"l":2.261e-5},{"g":"d16","x":68.9,"y":66.6,"l":2.261e-5},{"g":"d16","x":78.5,"y":69.4,"l":2.261e-5},{"g":"d16","x":89.2,"y":66.6,"l":2.261e-5},{"g":"d16","x":92.8,"y":57.4,"l":2.261e-5},{"g":"d16","x":89.2,"y":47.3,"l":2.261e-5},{"g":"d16","x":78.5,"y":44.1,"l":2.261e-5},{"g":"d16","x":68.9,"y":47.3,"l":2.261e-5}
]
},
"concat":[
{"title":"Random Forest Predicted vs Observed AGB (Density)","width":442.5,"height":274.7,
"layer":[
{"data":{"name":"rfS"},"mark":{"type":"circle","size":75,"color":"#000","opacity":0.68},
"encoding":{"x":{"field":"x","type":"quantitative","title":"Random Forest Predicted AGB","scale":{"domain":[23.5,282.3],"nice":false,"zero":false},"axis":{"values":[50,100,150,200,250],"labelExpr":"datum.value % 100 === 0 ? datum.label : ''","gridWidth":{"condition":{"test":"datum.value % 100 === 0","value":1.4},"value":0.7}}},
"y":{"field":"y","type":"quantitative","title":"Observed AGB","scale":{"domain":[-10.2,319.5],"nice":false,"zero":false},"axis":{"values":[0,50,100,150,200,250,300],"labelExpr":"datum.value % 100 === 0 ? datum.label : ''","gridWidth":{"condition":{"test":"datum.value % 100 === 0","value":1.4},"value":0.7}}}}},
{"data":{"name":"rfP"},"mark":{"type":"line","stroke":"transparent","strokeWidth":0,"fillOpacity":0.22,"clip":true},
"encoding":{"x":{"field":"x","type":"quantitative"},"y":{"field":"y","type":"quantitative"},"detail":{"field":"g"},"order":{"value":null},
"fill":{"field":"l","type":"quantitative","scale":{"scheme":"viridis","domain":[2.27e-6,2.644e-5]},"legend":{"title":"level","orient":"none","legendX":466,"legendY":65.8,"direction":"vertical","values":[5e-6,1e-5,1.5e-5,2e-5,2.5e-5],"labelExpr":"replace(format(datum.value, '.1e'), 'e-', 'e-0')"}}}},
{"data":{"values":[{"x":35,"y":12,"x2":270.3,"y2":287}]},"mark":{"type":"rule","color":"#ff0000","strokeWidth":2.8,"strokeDash":[12,8]},
"encoding":{"x":{"field":"x","type":"quantitative"},"y":{"field":"y","type":"quantitative"},"x2":{"field":"x2"},"y2":{"field":"y2"}}},
{"data":{"values":[{"x":215,"y":241.6,"t":"R² = 0.603"}]},"mark":{"type":"text","color":"#0000ff","fontSize":20,"font":"Liberation Sans"},
"encoding":{"x":{"field":"x","type":"quantitative"},"y":{"field":"y","type":"quantitative"},"text":{"field":"t"}}}
]},
{"title":"Support Vector Machine Predicted vs Observed AGB (Density)","width":452.4,"height":273.4,
"layer":[
{"data":{"name":"svS"},"mark":{"type":"circle","size":75,"color":"#000","opacity":0.68},
"encoding":{"x":{"field":"x","type":"quantitative","title":"Support Vector Machine Predicted AGB","scale":{"domain":[21,312.8],"nice":false,"zero":false},"axis":{"values":[50,100,150,200,250,300],"labelExpr":"datum.value % 100 === 0 ? datum.label : ''","gridWidth":{"condition":{"test":"datum.value % 100 === 0","value":1.4},"value":0.7}}},
"y":{"field":"y","type":"quantitative","title":"Observed AGB","scale":{"domain":[-12.8,397.2],"nice":false,"zero":false},"axis":{"values":[0,50,100,150,200,250,300,350],"labelExpr":"datum.value % 100 === 0 ? datum.label : ''","gridWidth":{"condition":{"test":"datum.value % 100 === 0","value":1.4},"value":0.7}}}}},
{"data":{"name":"svP"},"mark":{"type":"line","stroke":"transparent","strokeWidth":0,"fillOpacity":0.22,"clip":true},
"encoding":{"x":{"field":"x","type":"quantitative"},"y":{"field":"y","type":"quantitative"},"detail":{"field":"g"},"order":{"value":null},
"fill":{"field":"l","type":"quantitative","scale":{"scheme":"viridis","domain":[5.46e-6,4.564e-5]},"legend":{"title":"level","orient":"none","legendX":477.3,"legendY":65.8,"direction":"vertical","values":[1e-5,2e-5,3e-5,4e-5],"labelExpr":"replace(format(datum.value, '.0e'), 'e-', 'e-0')"}}}},
{"data":{"values":[{"x":33.8,"y":27.5,"x2":294,"y2":371.6}]},"mark":{"type":"rule","color":"#ff0000","strokeWidth":2.8,"strokeDash":[12,8]},
"encoding":{"x":{"field":"x","type":"quantitative"},"y":{"field":"y","type":"quantitative"},"x2":{"field":"x2"},"y2":{"field":"y2"}}},
{"data":{"values":[{"x":239.8,"y":242.2,"t":"R² = 0.699"}]},"mark":{"type":"text","color":"#0000ff","fontSize":20,"font":"Liberation Sans"},
"encoding":{"x":{"field":"x","type":"quantitative"},"y":{"field":"y","type":"quantitative"},"text":{"field":"t"}}}
]},
{"title":"k-Nearest Neighbor Predicted vs Observed AGB (Density)","width":443,"height":273.6,
"layer":[
{"data":{"name":"knS"},"mark":{"type":"circle","size":75,"color":"#000","opacity":0.68},
"encoding":{"x":{"field":"x","type":"quantitative","title":"k-Nearest Neighbor Predicted AGB","scale":{"domain":[20.2,309.1],"nice":false,"zero":false},"axis":{"values":[50,100,150,200,250,300],"labelExpr":"datum.value % 100 === 0 ? datum.label : ''","gridWidth":{"condition":{"test":"datum.value % 100 === 0","value":1.4},"value":0.7}}},
"y":{"field":"y","type":"quantitative","title":"Observed AGB","scale":{"domain":[-8.6,320.6],"nice":false,"zero":false},"axis":{"values":[0,50,100,150,200,250,300],"labelExpr":"datum.value % 100 === 0 ? datum.label : ''","gridWidth":{"condition":{"test":"datum.value % 100 === 0","value":1.4},"value":0.7}}}}},
{"data":{"name":"knP"},"mark":{"type":"line","stroke":"transparent","strokeWidth":0,"fillOpacity":0.22,"clip":true},
"encoding":{"x":{"field":"x","type":"quantitative"},"y":{"field":"y","type":"quantitative"},"detail":{"field":"g"},"order":{"value":null},
"fill":{"field":"l","type":"quantitative","scale":{"scheme":"viridis","domain":[2.35e-6,2.424e-5]},"legend":{"title":"level","orient":"none","legendX":466,"legendY":66.1,"direction":"vertical","values":[5e-6,1e-5,1.5e-5,2e-5],"labelExpr":"replace(format(datum.value, '.1e'), 'e-', 'e-0')"}}}},
{"data":{"values":[{"x":33.3,"y":11,"x2":296,"y2":302}]},"mark":{"type":"rule","color":"#ff0000","strokeWidth":2.8,"strokeDash":[12,8]},
"encoding":{"x":{"field":"x","type":"quantitative"},"y":{"field":"y","type":"quantitative"},"x2":{"field":"x2"},"y2":{"field":"y2"}}},
{"data":{"values":[{"x":236.1,"y":243.6,"t":"R² = 0.567"}]},"mark":{"type":"text","color":"#0000ff","fontSize":20,"font":"Liberation Sans"},
"encoding":{"x":{"field":"x","type":"quantitative"},"y":{"field":"y","type":"quantitative"},"text":{"field":"t"}}}
]},
{"title":"XG-Boost Model Predicted vs Observed AGB (Density)","width":444.6,"height":273.9,
"layer":[
{"data":{"name":"xgS"},"mark":{"type":"circle","size":75,"color":"#000","opacity":0.68},
"encoding":{"x":{"field":"x","type":"quantitative","title":"XG-Boost Model Predicted AGB","scale":{"domain":[5.7,324.9],"nice":false,"zero":false},"axis":{"values":[50,100,150,200,250,300],"labelExpr":"datum.value % 100 === 0 ? datum.label : ''","gridWidth":{"condition":{"test":"datum.value % 100 === 0","value":1.4},"value":0.7}}},
"y":{"field":"y","type":"quantitative","title":"Observed AGB","scale":{"domain":[-8.6,321],"nice":false,"zero":false},"axis":{"values":[0,50,100,150,200,250,300],"labelExpr":"datum.value % 100 === 0 ? datum.label : ''","gridWidth":{"condition":{"test":"datum.value % 100 === 0","value":1.4},"value":0.7}}}}},
{"data":{"name":"xgP"},"mark":{"type":"line","stroke":"transparent","strokeWidth":0,"fillOpacity":0.22,"clip":true},
"encoding":{"x":{"field":"x","type":"quantitative"},"y":{"field":"y","type":"quantitative"},"detail":{"field":"g"},"order":{"value":null},
"fill":{"field":"l","type":"quantitative","scale":{"scheme":"viridis","domain":[2.01e-6,2.261e-5]},"legend":{"title":"level","orient":"none","legendX":467.7,"legendY":66.1,"direction":"vertical","values":[5e-6,1e-5,1.5e-5,2e-5],"labelExpr":"replace(format(datum.value, '.1e'), 'e-', 'e-0')"}}}},
{"data":{"values":[{"x":20.2,"y":5,"x2":310.4,"y2":299}]},"mark":{"type":"rule","color":"#ff0000","strokeWidth":2.8,"strokeDash":[12,8]},
"encoding":{"x":{"field":"x","type":"quantitative"},"y":{"field":"y","type":"quantitative"},"x2":{"field":"x2"},"y2":{"field":"y2"}}},
{"data":{"values":[{"x":248.2,"y":243.6,"t":"R² = 0.665"}]},"mark":{"type":"text","color":"#0000ff","fontSize":20,"font":"Liberation Sans"},
"encoding":{"x":{"field":"x","type":"quantitative"},"y":{"field":"y","type":"quantitative"},"text":{"field":"t"}}}
]}
]
}
